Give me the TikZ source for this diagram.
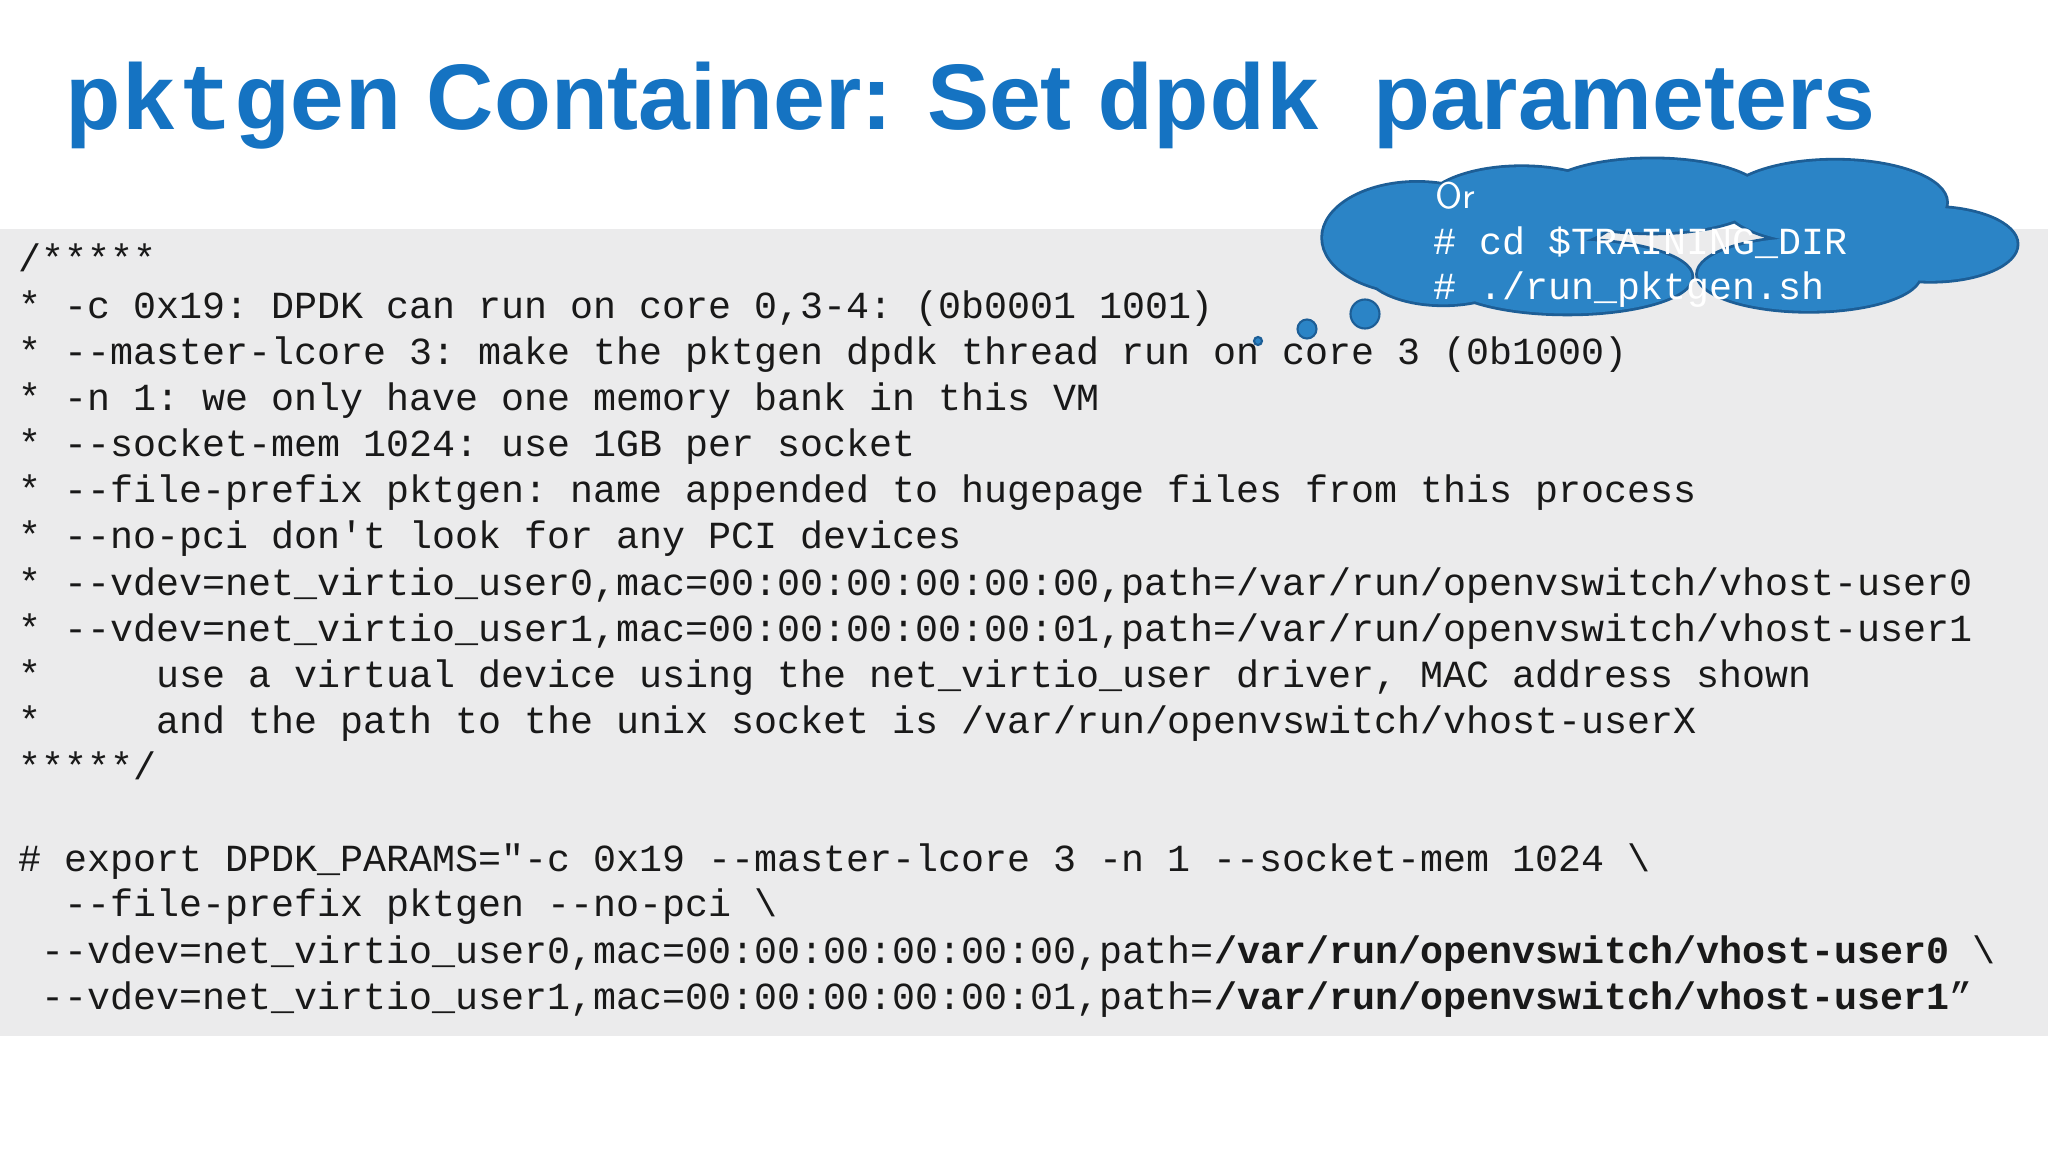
\documentclass[tikz,border=0pt]{standalone}
\usepackage{fontspec}
\setmainfont{Liberation Sans}
\setmonofont{Liberation Mono}
\definecolor{ttl}{HTML}{1573C2}
\definecolor{greybg}{HTML}{EBEBEC}
\definecolor{cloudf}{HTML}{2B84C6}
\definecolor{cloudd}{HTML}{1D5E96}
\tikzset{
 code/.style={anchor=base west,inner sep=0,font=\fontsize{10.9pt}{12pt}\ttfamily,text=black!90},
 ctext/.style={anchor=base west,inner sep=0,font=\fontsize{10.9pt}{12pt}\ttfamily,text=white},
 bub/.style={fill=cloudf,draw=cloudd,line width=0.6pt}
}
\begin{document}
\begin{tikzpicture}[x=1cm,y=1cm]
\useasboundingbox (0,0) rectangle (20.48,-11.52);
\fill[white] (0,0) rectangle (20.48,-11.52);
\fill[greybg] (0,-2.29) rectangle (20.48,-10.36);
\node[anchor=base west,inner sep=0,text=ttl,font=\fontsize{26.5pt}{30pt}\bfseries] (title) at (0.65,-1.30)
 {{\ttfamily\bfseries pktgen} Container: Set {\ttfamily\bfseries dpdk}\ \ parameters};
\foreach \t [count=\i from 0] in {
 {/*****},
 {* -c 0x19: DPDK can run on core 0,3-4: (0b0001 1001)},
 {* --master-lcore 3: make the pktgen dpdk thread run on core 3 (0b1000)},
 {* -n 1: we only have one memory bank in this VM},
 {* --socket-mem 1024: use 1GB per socket},
 {* --file-prefix pktgen: name appended to hugepage files from this process},
 {* --no-pci don't look for any PCI devices},
 {* --vdev=net\_virtio\_user0,mac=00:00:00:00:00:00,path=/var/run/openvswitch/vhost-user0},
 {* --vdev=net\_virtio\_user1,mac=00:00:00:00:00:01,path=/var/run/openvswitch/vhost-user1},
 {*\ \ \ \ \ use a virtual device using the net\_virtio\_user driver, MAC address shown},
 {*\ \ \ \ \ and the path to the unix socket is /var/run/openvswitch/vhost-userX},
 {*****/}}
 \node[code] (l\i) at (0.18,{-2.72-0.4615*\i}) {\t};
\node[code] (e0) at (0.18,-8.71) {\# export DPDK\_PARAMS="-c 0x19 --master-lcore 3 -n 1 --socket-mem 1024 \textbackslash};
\node[code] (e1) at (0.18,-9.17) {\ \ --file-prefix pktgen --no-pci \textbackslash};
\node[code] (e2) at (0.18,-9.63) {\ --vdev=net\_virtio\_user0,mac=00:00:00:00:00:00,path=\textbf{/var/run/openvswitch/vhost-user0} \textbackslash};
\node[code] (e3) at (0.18,-10.09) {\ --vdev=net\_virtio\_user1,mac=00:00:00:00:00:01,path=\textbf{/var/run/openvswitch/vhost-user1}”};
% cloud (display coords)
\begin{scope}[x=0.01306cm,y=-0.01306cm]
\def\puffs{(1085,182) ellipse (72 and 42) (1165,160) ellipse (75 and 32) (1265,150) ellipse (85 and 28) (1405,155) ellipse (85 and 32) (1478,187) ellipse (66 and 28) (1385,210) ellipse (85 and 28) (1200,212) ellipse (95 and 28) (1105,205) ellipse (60 and 28)}
\draw[cloudd,line width=1.6pt] \puffs;
\fill[cloudf] \puffs;
\end{scope}
\node[bub,circle,minimum size=0.29cm,inner sep=0] (b1) at (13.65,-3.14) {};
\node[bub,circle,minimum size=0.19cm,inner sep=0] (b2) at (13.07,-3.29) {};
\node[bub,circle,minimum size=0.08cm,inner sep=0] (b3) at (12.58,-3.41) {};
\node[anchor=base west,inner sep=0,text=white,font=\fontsize{10.5pt}{12pt}\sffamily] (or) at (14.35,-2.09) {Or};
\node[ctext] (c1) at (14.33,-2.55) {\# cd \$TRAINING\_DIR};
\node[ctext] (c2) at (14.33,-3.0) {\# ./run\_pktgen.sh};
\end{tikzpicture}
\end{document}
